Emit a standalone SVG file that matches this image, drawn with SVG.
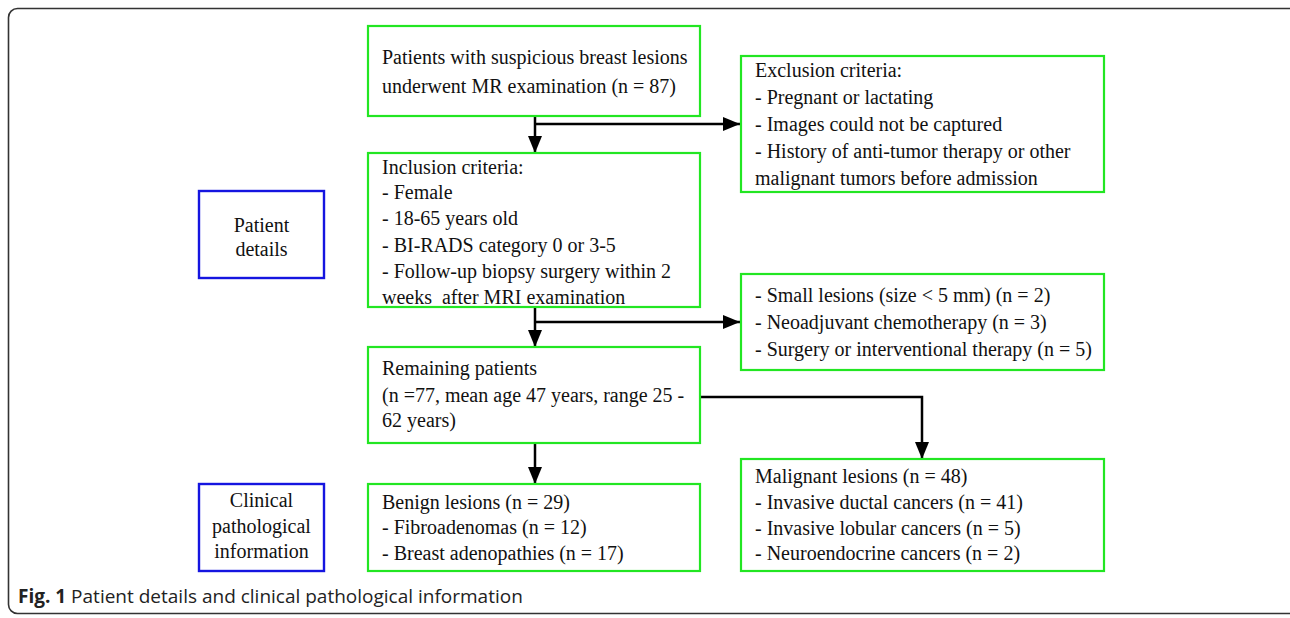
<svg xmlns="http://www.w3.org/2000/svg" width="1290" height="618" viewBox="0 0 1290 618">
<defs>
<style>
.g{fill:#fff;stroke:#22e622;stroke-width:2.2}
.b{fill:#fff;stroke:#1515e0;stroke-width:2.4}
.t{font-family:"Liberation Serif","Times New Roman",serif;font-size:20px;fill:#111}
.c{text-anchor:middle}
.ln{fill:none;stroke:#000;stroke-width:2.5}
.cap{font-family:"Open Sans","Liberation Sans",sans-serif;font-size:19px;fill:#222}
</style>
<marker id="ah" markerWidth="17" markerHeight="14" refX="17" refY="7" orient="auto" markerUnits="userSpaceOnUse">
<path d="M0,0 L17,7 L0,14 Z" fill="#000"/>
</marker>
</defs>
<rect width="1290" height="618" fill="#fff"/>
<rect x="8.5" y="8.5" width="1290" height="605" rx="9" fill="none" stroke="#333" stroke-width="1.6"/>

<g id="connectors">
<line class="ln" x1="535" y1="116" x2="535" y2="153" marker-end="url(#ah)"/>
<line class="ln" x1="535" y1="124" x2="740" y2="124" marker-end="url(#ah)"/>
<line class="ln" x1="535" y1="307" x2="535" y2="347" marker-end="url(#ah)"/>
<line class="ln" x1="535" y1="322" x2="740" y2="322" marker-end="url(#ah)"/>
<line class="ln" x1="535" y1="443" x2="535" y2="484" marker-end="url(#ah)"/>
<path class="ln" d="M700,397 H922 V459" marker-end="url(#ah)"/>
</g>

<g id="n-start">
<rect class="g" x="368" y="26" width="332" height="90"/>
<text class="t" x="382" y="64">Patients with suspicious breast lesions</text>
<text class="t" x="382" y="93">underwent MR examination (n = 87)</text>
</g>

<g id="n-exclusion">
<rect class="g" x="741" y="56" width="363" height="136"/>
<text class="t" x="755" y="77">Exclusion criteria:</text>
<text class="t" x="755" y="104">- Pregnant or lactating</text>
<text class="t" x="755" y="131">- Images could not be captured</text>
<text class="t" x="755" y="158">- History of anti-tumor therapy or other</text>
<text class="t" x="755" y="185">malignant tumors before admission</text>
</g>

<g id="n-patient">
<rect class="b" x="199" y="191" width="125" height="87"/>
<text class="t c" x="261.5" y="232">Patient</text>
<text class="t c" x="261.5" y="256">details</text>
</g>

<g id="n-inclusion">
<rect class="g" x="368" y="153" width="332" height="154"/>
<text class="t" x="382" y="174">Inclusion criteria:</text>
<text class="t" x="382" y="199">- Female</text>
<text class="t" x="382" y="225">- 18-65 years old</text>
<text class="t" x="382" y="252">- BI-RADS category 0 or 3-5</text>
<text class="t" x="382" y="278">- Follow-up biopsy surgery within 2</text>
<text class="t" x="382" y="304">weeks &#160;after MRI examination</text>
</g>

<g id="n-excluded2">
<rect class="g" x="741" y="274" width="363" height="96"/>
<text class="t" x="755" y="302">- Small lesions (size &lt; 5 mm) (n = 2)</text>
<text class="t" x="755" y="329">- Neoadjuvant chemotherapy (n = 3)</text>
<text class="t" x="755" y="356">- Surgery or interventional therapy (n = 5)</text>
</g>

<g id="n-remaining">
<rect class="g" x="368" y="347" width="332" height="96"/>
<text class="t" x="382" y="375">Remaining patients</text>
<text class="t" x="382" y="402">(n =77, mean age 47 years, range 25 -</text>
<text class="t" x="382" y="427">62 years)</text>
</g>

<g id="n-clinical">
<rect class="b" x="199" y="484" width="125" height="87"/>
<text class="t c" x="261.5" y="507">Clinical</text>
<text class="t c" x="261.5" y="533">pathological</text>
<text class="t c" x="261.5" y="558">information</text>
</g>

<g id="n-benign">
<rect class="g" x="368" y="484" width="332" height="87"/>
<text class="t" x="382" y="509">Benign lesions (n = 29)</text>
<text class="t" x="382" y="534">- Fibroadenomas (n = 12)</text>
<text class="t" x="382" y="560">- Breast adenopathies (n = 17)</text>
</g>

<g id="n-malignant">
<rect class="g" x="741" y="459" width="363" height="112"/>
<text class="t" x="755" y="483">Malignant lesions (n = 48)</text>
<text class="t" x="755" y="509">- Invasive ductal cancers (n = 41)</text>
<text class="t" x="755" y="535">- Invasive lobular cancers (n = 5)</text>
<text class="t" x="755" y="560">- Neuroendocrine cancers (n = 2)</text>
</g>

<text class="cap" x="18" y="603"><tspan font-weight="bold">Fig. 1</tspan> Patient details and clinical pathological information</text>
</svg>
